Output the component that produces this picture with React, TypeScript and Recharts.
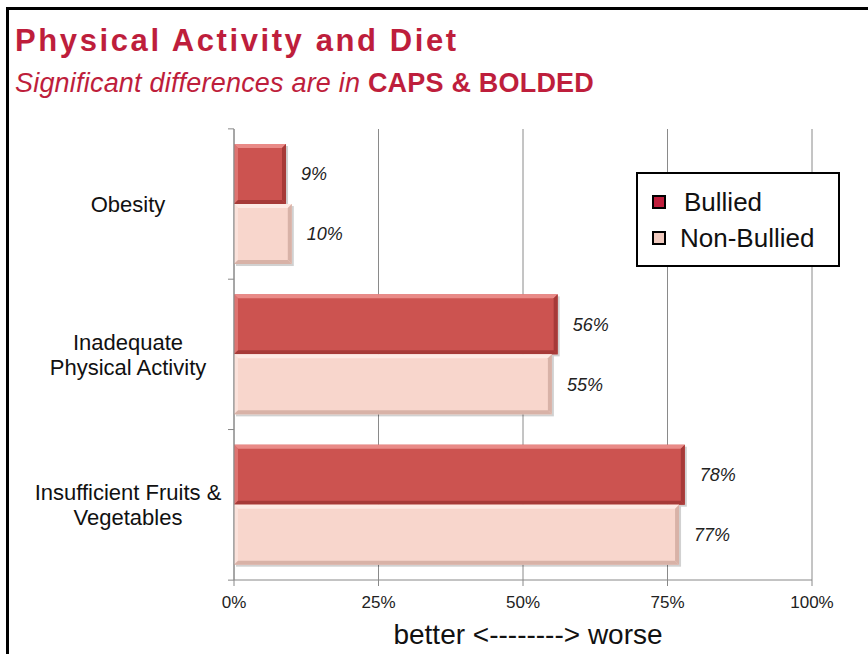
import React from 'react';
import { BarChart, Bar, XAxis, YAxis, CartesianGrid, LabelList } from 'recharts';

const categories = ['Obesity', 'Inadequate Physical Activity', 'Insufficient Fruits & Vegetables'];
const categoryLines = [['Obesity'], ['Inadequate', 'Physical Activity'], ['Insufficient Fruits &', 'Vegetables']];
const bullied = [9, 56, 78];
const nonBullied = [10, 55, 77];
const xTicks = [0, 25, 50, 75, 100];
const seriesNames = ['Bullied', 'Non-Bullied'];

const data = categories.map((name, i) => ({ name, bullied: bullied[i], nonBullied: nonBullied[i] }));

const FONT = '"Liberation Sans", Arial, sans-serif';
const CRIMSON = '#be1e3c';

const bevel = (main: string, light: string, dark: string) => (props: any) => {
  const { x, y, width, height } = props;
  if (!width || width <= 0) return null;
  const b = 4;
  return (
    <g>
      <rect x={x + 2} y={y + 2} width={width} height={height} fill="rgba(0,0,0,0.18)" />
      <rect x={x} y={y} width={width} height={height} fill={main} />
      <polygon points={`${x},${y} ${x + width},${y} ${x + width - b},${y + b} ${x + b},${y + b}`} fill={light} />
      <polygon points={`${x},${y} ${x + b},${y + b} ${x + b},${y + height - b} ${x},${y + height}`} fill={light} opacity={0.6} />
      <polygon points={`${x + width},${y} ${x + width},${y + height} ${x + width - b},${y + height - b} ${x + width - b},${y + b}`} fill={dark} />
      <polygon points={`${x},${y + height} ${x + width},${y + height} ${x + width - b},${y + height - b} ${x + b},${y + height - b}`} fill={dark} />
    </g>
  );
};

const CategoryTick = (props: any) => {
  const { y, payload, index } = props;
  const lines = categoryLines[index] || [payload.value];
  const half = 75.3;
  const cx = 128;
  const lh = 25;
  const start = y - ((lines.length - 1) * lh) / 2;
  return (
    <g>
      <line x1={228} x2={234} y1={y - half} y2={y - half} stroke="#888" />
      {index === categories.length - 1 && <line x1={228} x2={234} y1={y + half} y2={y + half} stroke="#888" />}
      {lines.map((l: string, i: number) => (
        <text key={i} x={cx} y={start + i * lh} textAnchor="middle" dominantBaseline="central" fontSize={22} fill="#111" fontFamily={FONT}>
          {l}
        </text>
      ))}
    </g>
  );
};

const legendColors = [CRIMSON, '#efc9be'];

const LegendBox = () => (
  <div style={{ position: 'absolute', left: 636, top: 172, width: 200, height: 91, border: '2px solid #000', background: '#fff', fontFamily: FONT, fontSize: 26, color: '#111' }}>
    {seriesNames.map((label, i) => (
      <div key={i} style={{ display: 'flex', alignItems: 'center', height: 36, marginTop: i === 0 ? 10 : 0, paddingLeft: 14 }}>
        <span style={{ display: 'inline-block', width: 10, height: 10, background: legendColors[i], border: '2px solid #000', marginRight: i === 0 ? 18 : 14 }} />
        <span>{label}</span>
      </div>
    ))}
  </div>
);

export default function App() {
  return (
    <div style={{ position: 'absolute', left: 0, top: 0, width: 868, height: 654, background: '#fff', overflow: 'hidden', fontFamily: FONT }}>
      <div style={{ position: 'absolute', left: 6, top: 7, right: 0, height: 3, background: '#000' }} />
      <div style={{ position: 'absolute', left: 6, top: 7, width: 3, bottom: 0, background: '#000' }} />
      <div style={{ position: 'absolute', left: 15, top: 23, color: CRIMSON, fontWeight: 700, fontSize: 31, letterSpacing: 2.6, whiteSpace: 'nowrap' }}>
        Physical Activity and Diet
      </div>
      <div style={{ position: 'absolute', left: 15, top: 68, color: CRIMSON, fontSize: 27, letterSpacing: 0.2, whiteSpace: 'nowrap' }}>
        <i>Significant differences are in </i>
        <b>CAPS &amp; BOLDED</b>
      </div>
      <div style={{ position: 'absolute', left: 0, top: 0 }}>
        <BarChart
          width={868}
          height={654}
          data={data}
          layout="vertical"
          margin={{ top: 129, right: 56, left: 14, bottom: 44 }}
          barCategoryGap="10%"
          barGap={0}
        >
          <CartesianGrid horizontal={false} stroke="#8a8a8a" />
          <XAxis
            type="number"
            domain={[0, 100]}
            ticks={xTicks}
            tickFormatter={(v: number) => `${v}%`}
            axisLine={{ stroke: '#888' }}
            tickLine={{ stroke: '#888' }}
            tickSize={6}
            tickMargin={10}
            tick={{ fontSize: 17, fill: '#222', fontFamily: FONT }}
            height={30}
            label={{ value: 'better <--------> worse', position: 'bottom', offset: 14, fontSize: 28, fill: '#111', fontFamily: FONT, dx: 5 }}
          />
          <YAxis
            type="category"
            dataKey="name"
            width={220}
            axisLine={{ stroke: '#888' }}
            tickLine={false}
            tick={<CategoryTick />}
          />
          <Bar dataKey="bullied" name={seriesNames[0]} fill="#cc5350" shape={bevel('#cc5350', '#e98a87', '#a63a38')} isAnimationActive={false}>
            <LabelList dataKey="bullied" position="right" offset={15} formatter={(v: any) => `${v}%`} style={{ fontSize: 18, fontStyle: 'italic', fill: '#222', fontFamily: FONT }} />
          </Bar>
          <Bar dataKey="nonBullied" name={seriesNames[1]} fill="#f8d6cc" shape={bevel('#f8d6cc', '#fdeae4', '#d8b2a7')} isAnimationActive={false}>
            <LabelList dataKey="nonBullied" position="right" offset={15} formatter={(v: any) => `${v}%`} style={{ fontSize: 18, fontStyle: 'italic', fill: '#222', fontFamily: FONT }} />
          </Bar>
        </BarChart>
      </div>
      <LegendBox />
    </div>
  );
}
